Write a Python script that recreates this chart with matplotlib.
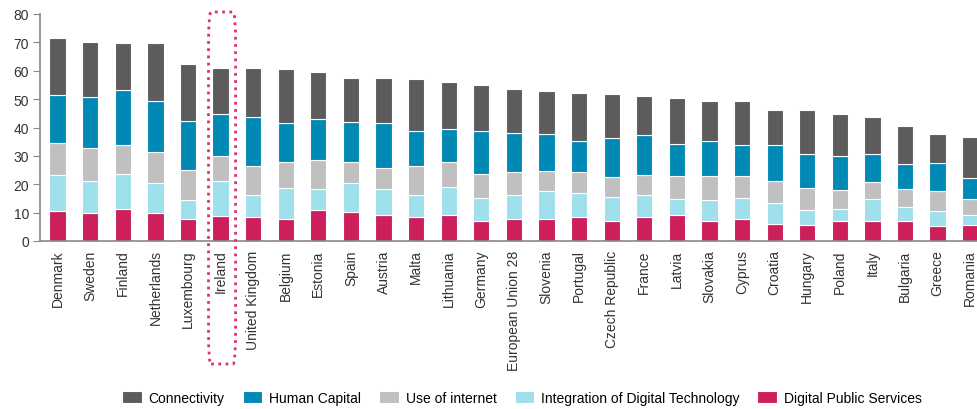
import matplotlib
matplotlib.use("Agg")
import matplotlib.pyplot as plt
import matplotlib.transforms as mtransforms
from matplotlib.patches import FancyBboxPatch
import numpy as np

plt.rcParams['font.family'] = ['Liberation Sans', 'DejaVu Sans']

countries = ["Denmark", "Sweden", "Finland", "Netherlands", "Luxembourg", "Ireland",
             "United Kingdom", "Belgium", "Estonia", "Spain", "Austria", "Malta",
             "Lithuania", "Germany", "European Union 28", "Slovenia", "Portugal",
             "Czech Republic", "France", "Latvia", "Slovakia", "Cyprus", "Croatia",
             "Hungary", "Poland", "Italy", "Bulgaria", "Greece", "Romania"]

digital_public_services = [10.6, 9.9, 11.3, 9.9, 7.9, 8.9, 8.3, 7.9, 10.9, 10.1, 9.3, 8.4,
                           9.3, 6.9, 7.9, 7.9, 8.3, 6.9, 8.3, 9.0, 6.9, 7.9, 6.1,
                           5.5, 6.9, 6.9, 6.9, 5.3, 5.5]
integration_digital_tech = [12.5, 11.4, 12.2, 10.6, 6.4, 12.2, 8.0, 10.9, 7.4, 10.3, 9.0, 7.9,
                            9.7, 8.2, 8.2, 9.8, 8.5, 8.5, 7.8, 5.9, 7.6, 7.3, 7.4,
                            5.3, 4.5, 8.0, 5.1, 5.3, 3.8]
use_of_internet = [11.5, 11.5, 10.2, 10.8, 10.7, 8.7, 10.3, 9.0, 10.1, 7.4, 7.4, 10.3,
                   8.8, 8.6, 8.2, 7.1, 7.5, 7.1, 7.0, 8.0, 8.4, 7.7, 7.8,
                   8.0, 6.4, 5.9, 6.4, 7.0, 5.6]
human_capital = [16.9, 18.1, 19.4, 18.0, 17.3, 14.8, 17.0, 13.8, 14.6, 14.1, 15.8, 12.2,
                 11.7, 15.1, 13.6, 12.9, 11.1, 13.7, 14.1, 11.2, 12.5, 11.1, 12.7,
                 11.8, 12.0, 9.7, 8.6, 10.0, 7.4]
connectivity = [19.9, 19.1, 16.7, 20.4, 20.1, 16.3, 17.3, 18.9, 16.4, 15.7, 16.1, 18.3,
                16.5, 16.3, 15.7, 15.0, 16.8, 15.6, 13.8, 16.2, 13.9, 15.3, 12.2,
                15.6, 14.8, 13.3, 13.5, 10.2, 14.3]

series = [
    ("Digital Public Services", digital_public_services, "#cc1f5b"),
    ("Integration of Digital Technology", integration_digital_tech, "#9fe0ec"),
    ("Use of internet", use_of_internet, "#c0c0c0"),
    ("Human Capital", human_capital, "#0089b5"),
    ("Connectivity", connectivity, "#5c5c5c"),
]
legend_order = ["Connectivity", "Human Capital", "Use of internet",
                "Integration of Digital Technology", "Digital Public Services"]
highlight = "Ireland"

W, H = 978, 410
fig = plt.figure(figsize=(W / 100, H / 100), dpi=100)
ax = fig.add_axes([40 / W, (H - 242) / H, 940 / W, 227 / H])

x = np.arange(len(countries))
bottom = np.zeros(len(countries))
handles = {}
for name, vals, color in series:
    vals = np.array(vals)
    b = ax.bar(x, vals, width=0.5, bottom=bottom, color=color,
               edgecolor="white", linewidth=0.8, label=name)
    handles[name] = b
    bottom += vals

ax.set_xlim(-0.54, 28.3)
ax.set_ylim(0, 80)
ax.set_yticks(range(0, 81, 10))
ax.set_xticks(x)
ax.set_xticklabels(countries, rotation=90, fontsize=10, color="#333333")
ax.tick_params(axis="x", length=0, pad=6)
ax.tick_params(axis="y", length=5, color="#888888", labelsize=10,
               labelcolor="#333333", pad=3)
for s in ["top", "right"]:
    ax.spines[s].set_visible(False)
for s in ["left", "bottom"]:
    ax.spines[s].set_color("#888888")
    ax.spines[s].set_linewidth(1.2)

# highlight box around Ireland
hi = countries.index(highlight)
trans = mtransforms.blended_transform_factory(ax.transData, fig.transFigure)
box = FancyBboxPatch((hi - 0.37, (H - 365) / H), 0.83, (365 - 13) / H,
                     boxstyle="round,pad=0,rounding_size=0.08",
                     transform=trans, fill=False, edgecolor="#e0306a",
                     linestyle=(0, (1, 1.6)), linewidth=2, clip_on=False,
                     mutation_aspect=1)
fig.add_artist(box)

fig.legend([handles[n] for n in legend_order], legend_order,
           loc="center", bbox_to_anchor=(522 / W, 1 - 399 / H), ncol=5,
           frameon=False, fontsize=10, handlelength=1.4, handleheight=1.0,
           handletextpad=0.5, columnspacing=1.3)

fig.savefig("out.png", dpi=100)
